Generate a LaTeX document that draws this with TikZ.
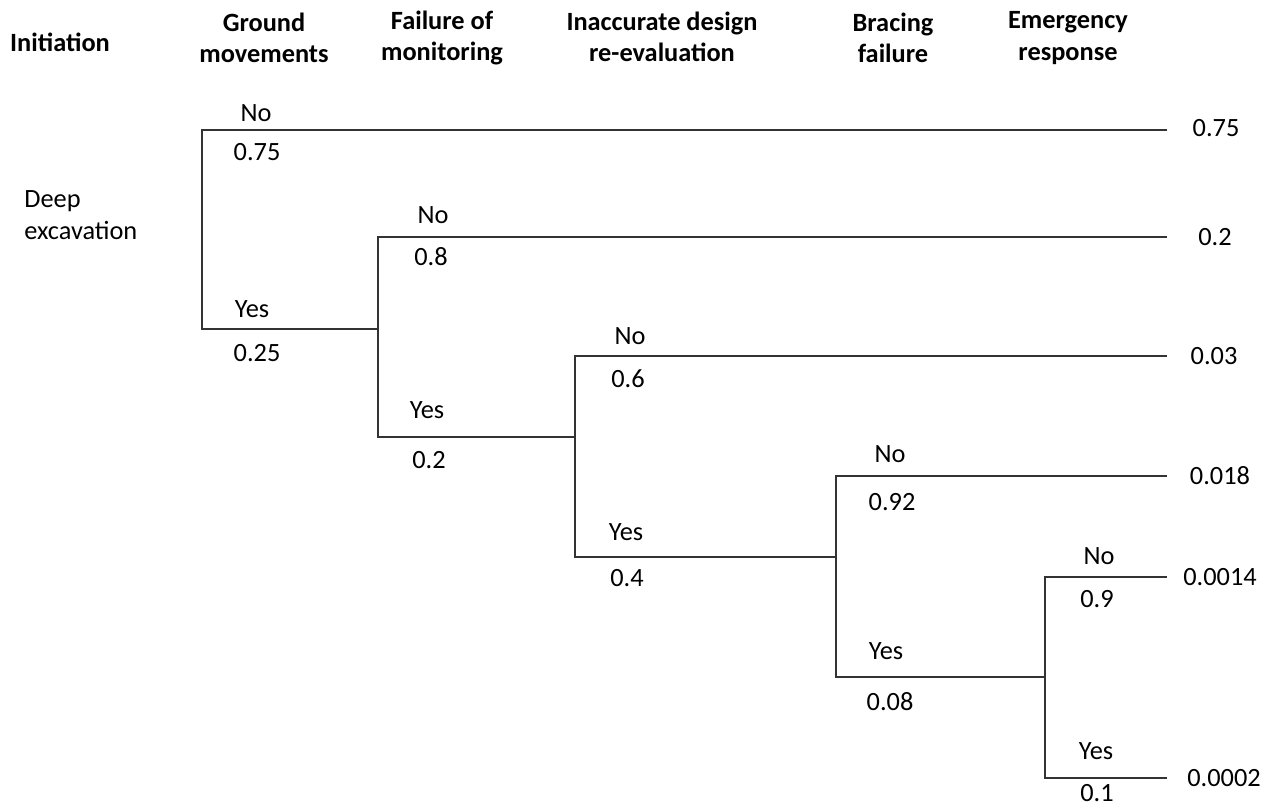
\documentclass[tikz,border=0pt]{standalone}
\usepackage{fontspec}
\setmainfont{Carlito}
\begin{document}
\begin{tikzpicture}[x=0.02cm, y=-0.02cm]
\tikzset{branche/.style={draw=black!80, line width=0.6pt},
  titre/.style={font=\fontsize{15}{18}\selectfont\bfseries, align=center, inner sep=0pt},
  etiq/.style={font=\fontsize{15}{18}\selectfont, inner sep=0pt},
  fin/.style={font=\fontsize{15}{18}\selectfont, inner sep=0pt}}
\useasboundingbox (0,0) rectangle (1278,806);
% en-tetes
\node[titre] (T0) at (60,42) {Initiation};
\node[titre] (T1) at (264,38) {Ground\\movements};
\node[titre] (T2) at (442,38) {Failure of\\monitoring};
\node[titre] (T3) at (662,37) {Inaccurate design\\re-evaluation};
\node[titre] (T4) at (893,38) {Bracing\\failure};
\node[titre] (T5) at (1068,38) {Emergency\\response};
\node[etiq, align=left, anchor=west] (D) at (24,215) {Deep\\excavation};
% points de branchement
\coordinate (A1) at (202,130);
\coordinate (A2) at (202,329);
\coordinate (B0) at (378,329);
\coordinate (B1) at (378,237);
\coordinate (B2) at (378,437);
\coordinate (C0) at (575,437);
\coordinate (C1) at (575,356);
\coordinate (C2) at (575,557);
\coordinate (D0) at (836,557);
\coordinate (D1) at (836,476);
\coordinate (D2) at (836,677);
\coordinate (E0) at (1045,677);
\coordinate (E1) at (1045,577);
\coordinate (E2) at (1045,778);
% extremites
\coordinate (F1) at (1167,130);
\coordinate (F2) at (1167,237);
\coordinate (F3) at (1167,356);
\coordinate (F4) at (1167,476);
\coordinate (F5) at (1167,577);
\coordinate (F6) at (1167,778);
\node[fin] (R1) at (1216,128) {0.75};
\node[fin] (R2) at (1215,237) {0.2};
\node[fin] (R3) at (1214,356) {0.03};
\node[fin] (R4) at (1220,476) {0.018};
\node[fin] (R5) at (1220,577) {0.0014};
\node[fin] (R6) at (1224,778) {0.0002};
% arbre
\draw[branche] (F1) -- (A1) -- (A2) -- (B0);
\draw[branche] (F2) -- (B1) -- (B2) -- (C0);
\draw[branche] (F3) -- (C1) -- (C2) -- (D0);
\draw[branche] (F4) -- (D1) -- (D2) -- (E0);
\draw[branche] (F5) -- (E1) -- (E2) -- (F6);
% probabilites
\node[etiq] (n1) at (256,113) {No};
\node[etiq] (p1) at (257,152) {0.75};
\node[etiq] (y1) at (252,309) {Yes};
\node[etiq] (q1) at (257,353) {0.25};
\node[etiq] (n2) at (433,215) {No};
\node[etiq] (p2) at (431,257) {0.8};
\node[etiq] (y2) at (427,410) {Yes};
\node[etiq] (q2) at (429,460) {0.2};
\node[etiq] (n3) at (630,336) {No};
\node[etiq] (p3) at (628,379) {0.6};
\node[etiq] (y3) at (626,532) {Yes};
\node[etiq] (q3) at (627,578) {0.4};
\node[etiq] (n4) at (890,454) {No};
\node[etiq] (p4) at (892,502) {0.92};
\node[etiq] (y4) at (886,651) {Yes};
\node[etiq] (q4) at (890,702) {0.08};
\node[etiq] (n5) at (1099,556) {No};
\node[etiq] (p5) at (1097,599) {0.9};
\node[etiq] (y5) at (1096,751) {Yes};
\node[etiq] (q5) at (1097,793) {0.1};
\end{tikzpicture}
\end{document}
